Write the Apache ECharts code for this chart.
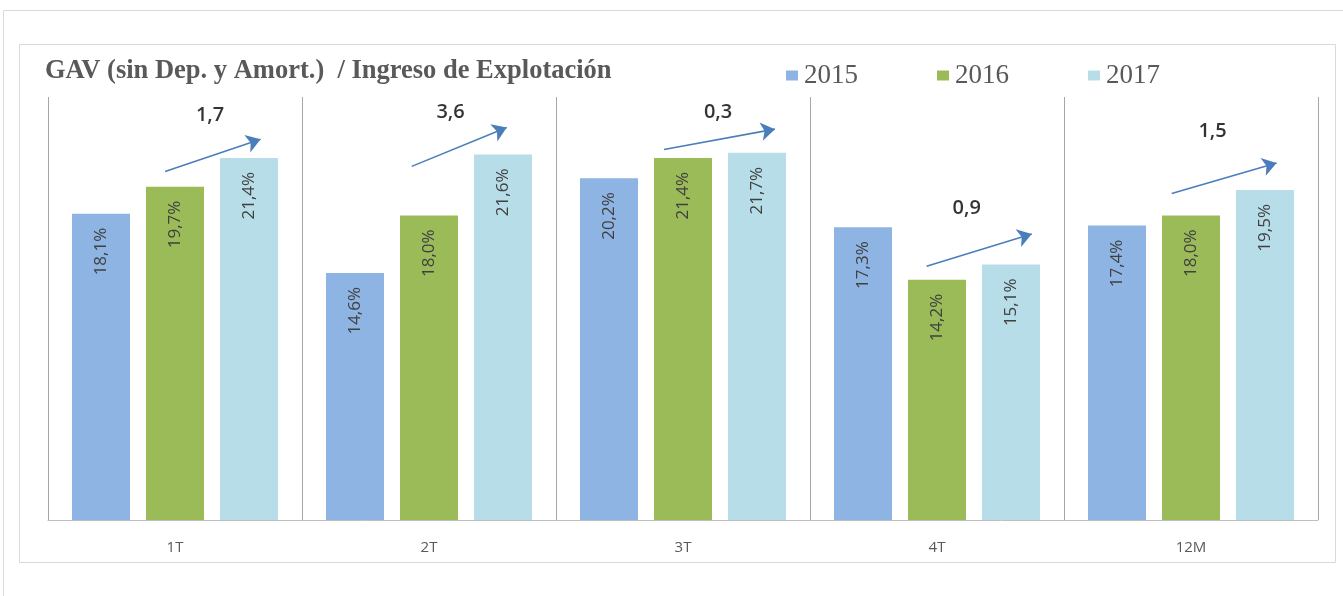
<!DOCTYPE html>
<html>
<head>
<meta charset="utf-8">
<script src="https://cdn.jsdelivr.net/npm/echarts@6/dist/echarts.min.js"></script>
<style>
  html, body { margin: 0; padding: 0; background: #fff; }
  #myChart { width: 1343px; height: 596px; }
</style>
</head>
<body>
<div id="myChart"></div>
<script>
    // datos
    var categories = ['1T', '2T', '3T', '4T', '12M'];
    var years = ['2015', '2016', '2017'];
    var values2015 = [18.1, 14.6, 20.2, 17.3, 17.4];
    var values2016 = [19.7, 18.0, 21.4, 14.2, 18.0];
    var values2017 = [21.4, 21.6, 21.7, 15.1, 19.5];

    // variaciones y flechas (x en unidades de categoria, y en %)
    var deltaLabels = ['1,7', '3,6', '0,3', '0,9', '1,5'];
    var deltaX = [0.638, 1.585, 2.638, 3.617, 4.585];
    var deltaY = [23.9, 24.1, 24.1, 18.4, 23.0];
    var arrowX0 = [0.461, 1.432, 2.425, 3.459, 4.424];
    var arrowY0 = [20.6, 20.9, 21.9, 15.0, 19.3];
    var arrowX1 = [0.837, 1.806, 2.862, 3.873, 4.837];
    var arrowY1 = [22.5, 23.2, 23.1, 16.9, 21.1];

    var colors = ['#8eb4e3', '#9bbb59', '#b7dee8'];

    let myChart = echarts.init(document.getElementById('myChart'))

    var fmt = function (p) {
        return p.value.toFixed(1).replace('.', ',') + '%';
    };

    var barLabel = {
        show: true,
        position: 'insideTop',
        rotate: 90,
        align: 'right',
        verticalAlign: 'middle',
        distance: 14,
        color: '#404040',
        fontFamily: 'Open Sans',
        fontSize: 17,
        formatter: fmt
    };

    var arrows = [];
    var deltas = [];
    for (var i = 0; i < categories.length; i++) {
        arrows.push({ coords: [[arrowX0[i], arrowY0[i]], [arrowX1[i], arrowY1[i]]] });
        deltas.push([deltaX[i], deltaY[i], deltaLabels[i]]);
    }

    var option = {
        backgroundColor: '#ffffff',
        animation: false,
        graphic: [
            {
                type: 'rect',
                shape: { x: 3.5, y: 10.5, width: 1400, height: 700 },
                style: { fill: 'none', stroke: '#d9d9d9', lineWidth: 1 }
            },
            {
                type: 'rect',
                shape: { x: 19.5, y: 44.5, width: 1316, height: 518 },
                style: { fill: 'none', stroke: '#d9d9d9', lineWidth: 1 }
            }
        ],
        title: {
            text: 'GAV (sin Dep. y Amort.)  / Ingreso de Explotación',
            left: 40,
            top: 53,
            textStyle: {
                color: '#595959',
                fontFamily: 'Liberation Serif',
                fontWeight: 'bold',
                fontSize: 26.5
            }
        },
        legend: {
            data: years,
            left: 781,
            top: 57,
            itemWidth: 12,
            itemHeight: 10,
            itemGap: 79,
            icon: 'rect',
            textStyle: {
                color: '#595959',
                fontFamily: 'Liberation Serif',
                fontSize: 27,
                padding: [0, 0, 0, 1]
            }
        },
        grid: {
            left: 48,
            right: 25,
            top: 97,
            bottom: 76
        },
        xAxis: [
            {
                type: 'category',
                data: categories,
                axisLine: { lineStyle: { color: '#bfbfbf', width: 1 } },
                axisTick: { show: false },
                splitLine: { show: true, lineStyle: { color: '#a6a6a6', width: 1 } },
                axisLabel: {
                    color: '#595959',
                    fontFamily: 'Open Sans',
                    fontSize: 15,
                    margin: 20
                }
            },
            {
                type: 'value',
                min: 0,
                max: 5,
                show: false
            }
        ],
        yAxis: {
            type: 'value',
            min: 0,
            max: 25,
            show: false
        },
        series: [
            {
                name: years[0],
                type: 'bar',
                data: values2015,
                barWidth: 58,
                barGap: '27.6%',
                itemStyle: { color: colors[0] },
                label: barLabel
            },
            {
                name: years[1],
                type: 'bar',
                data: values2016,
                barWidth: 58,
                barGap: '27.6%',
                itemStyle: { color: colors[1] },
                label: barLabel
            },
            {
                name: years[2],
                type: 'bar',
                data: values2017,
                barWidth: 58,
                barGap: '27.6%',
                itemStyle: { color: colors[2] },
                label: barLabel
            },
            {
                type: 'lines',
                coordinateSystem: 'cartesian2d',
                xAxisIndex: 1,
                symbol: ['none', 'arrow'],
                symbolSize: 14,
                lineStyle: { color: '#4a7ebb', width: 1.6, opacity: 1 },
                data: arrows
            },
            {
                type: 'scatter',
                xAxisIndex: 1,
                symbolSize: 0,
                data: deltas,
                label: {
                    show: true,
                    position: 'inside',
                    color: '#000000',
                    fontFamily: 'Open Sans',
                    fontWeight: 600,
                    fontSize: 20,
                    formatter: function (p) { return p.value[2]; }
                }
            }
        ]
    };
    myChart.setOption(option);
</script>
</body>
</html>
